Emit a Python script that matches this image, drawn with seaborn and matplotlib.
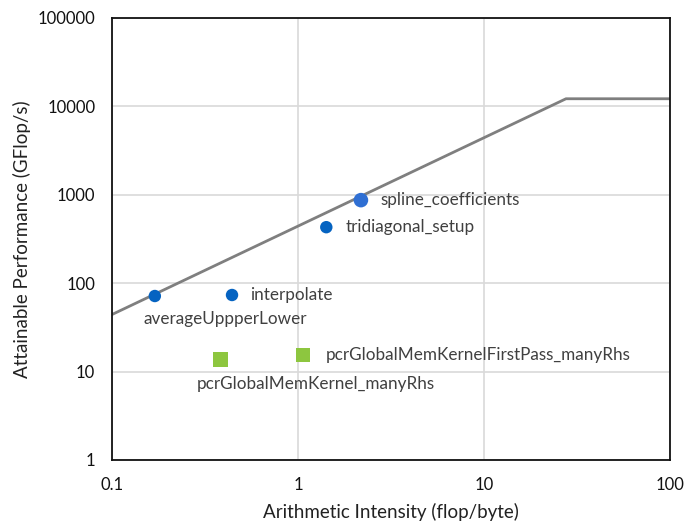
import matplotlib
matplotlib.use("Agg")
import matplotlib.pyplot as plt
import matplotlib.ticker as mticker
import seaborn as sns
import pandas as pd

# Roofline: memory-bound slope up to the ridge, then compute peak
roof_x = [0.1, 27.6, 100.0]
roof_y = [44.2, 12200.0, 12200.0]

# Kernel measurements (arithmetic intensity, GFlop/s)
kernels = ["averageUppperLower", "interpolate", "tridiagonal_setup", "spline_coefficients",
           "pcrGlobalMemKernel_manyRhs", "pcrGlobalMemKernelFirstPass_manyRhs"]
intensity = [0.170, 0.442, 1.42, 2.18, 0.383, 1.065]
perf = [71.6, 73.5, 430.0, 870.0, 13.7, 15.4]
group = ["circle", "circle", "circle", "spline", "square", "square"]

df = pd.DataFrame({"kernel": kernels, "ai": intensity, "gflops": perf, "group": group})
roof = pd.DataFrame({"ai": roof_x, "gflops": roof_y})

sns.set_theme(style="white")
plt.rcParams["font.family"] = ["Lato", "DejaVu Sans"]

fig = plt.figure(figsize=(6.84, 5.23), dpi=100)
ax = fig.add_axes([0.1637, 0.1205, 0.8158, 0.8451])

ax.set_xscale("log")
ax.set_yscale("log")
ax.set_xlim(0.1, 100)
ax.set_ylim(1, 100000)

ax.grid(True, which="major", color="#d9d9d9", linewidth=1.2)
ax.set_axisbelow(True)

sns.lineplot(data=roof, x="ai", y="gflops", ax=ax, color="#7f7f7f", linewidth=2.0,
             estimator=None, sort=False, zorder=2)

palette = {"circle": "#0563C1", "spline": "#2F6FD3", "square": "#8DC63F"}
markers = {"circle": "o", "spline": "o", "square": "s"}
sizes = {"circle": 80, "spline": 110, "square": 110}
for g in ["circle", "spline", "square"]:
    sub = df[df["group"] == g]
    sns.scatterplot(data=sub, x="ai", y="gflops", ax=ax, color=palette[g], marker=markers[g],
                    s=sizes[g], edgecolor="none", linewidth=0, zorder=3, legend=False)

# label offsets in pixels (dx, dy, ha)
px = 0.72
offsets = {
    "averageUppperLower": (70, -23, "center"),
    "interpolate": (18, 0, "left"),
    "tridiagonal_setup": (19, 0, "left"),
    "spline_coefficients": (20, 0, "left"),
    "pcrGlobalMemKernel_manyRhs": (95, -25, "center"),
    "pcrGlobalMemKernelFirstPass_manyRhs": (23, 0, "left"),
}
for name, x, y in zip(df["kernel"], df["ai"], df["gflops"]):
    dx, dy, ha = offsets[name]
    ax.annotate(name, (x, y), xytext=(dx * px, dy * px), textcoords="offset points",
                ha=ha, va="center", fontsize=12.3, color="#404040")

ax.xaxis.set_major_formatter(mticker.FuncFormatter(lambda v, p: f"{v:g}"))
ax.yaxis.set_major_formatter(mticker.FuncFormatter(lambda v, p: f"{v:g}"))
ax.xaxis.set_major_locator(mticker.LogLocator(base=10, numticks=10))
ax.yaxis.set_major_locator(mticker.LogLocator(base=10, numticks=10))
ax.xaxis.set_minor_locator(mticker.LogLocator(base=10, subs=range(2, 10), numticks=10))
ax.yaxis.set_minor_locator(mticker.LogLocator(base=10, subs=range(2, 10), numticks=10))
ax.xaxis.set_minor_formatter(mticker.NullFormatter())
ax.yaxis.set_minor_formatter(mticker.NullFormatter())

ax.tick_params(axis="both", which="major", direction="in", length=0, labelsize=12,
               labelcolor="#111111")
ax.tick_params(axis="y", which="major", pad=12)
ax.tick_params(axis="x", which="major", pad=12)
ax.tick_params(axis="both", which="minor", direction="in", length=4, width=1, color="#222222")

for s in ax.spines.values():
    s.set_color("#111111")
    s.set_linewidth(1.3)

ax.set_xlabel("Arithmetic Intensity (flop/byte)", fontsize=13.5, color="#222222", va="center")
ax.set_ylabel("Attainable Performance (GFlop/s)", fontsize=13.5, color="#222222", va="center")
ax.xaxis.set_label_coords(0.5, -0.118)
ax.yaxis.set_label_coords(-0.161, 0.5)

fig.savefig("out.png", dpi=100)
